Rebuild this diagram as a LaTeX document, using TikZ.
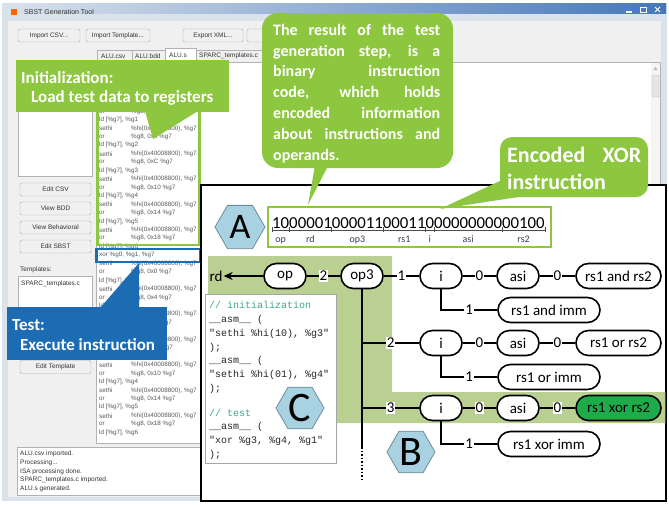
\documentclass[tikz,border=0pt]{standalone}
\usepackage{fontspec}
\setmainfont{Carlito}
\newfontfamily\uifont{Liberation Sans}
\newfontfamily\codefont{Liberation Mono}
\usetikzlibrary{shapes.geometric,arrows.meta}
\definecolor{callgreen}{RGB}{141,198,63}
\definecolor{callblue}{RGB}{28,108,180}
\definecolor{bggreen}{RGB}{186,207,146}
\definecolor{hexblue}{RGB}{168,210,226}
\definecolor{hexline}{RGB}{110,140,155}
\definecolor{darkgreen}{RGB}{30,172,75}
\definecolor{winbg}{RGB}{240,240,240}
\definecolor{winframe}{RGB}{218,226,236}
\definecolor{titleblue}{RGB}{70,120,185}
\definecolor{codecomment}{RGB}{60,170,130}
\newcommand\lstrow[3]{\node[lst] at (99,{120+8.45*#1}) {#2}; \node[lst] at (131,{120+8.45*#1}) {#3};}
\begin{document}
\begin{tikzpicture}[x=1pt,y=-1pt,
  uibtn/.style={draw=gray!65, fill=gray!12, rounded corners=1.5pt, minimum height=13pt, inner sep=0pt, font=\uifont\fontsize{6.5}{7}\selectfont, text=black!80},
  uitxt/.style={font=\uifont\fontsize{6.5}{7}\selectfont, inner sep=0pt, anchor=west, text=black!80},
  lst/.style={font=\uifont\fontsize{6.3}{7}\selectfont, inner sep=0pt, anchor=west, text=black!65},
  calltxt/.style={font=\bfseries\fontsize{17}{20}\selectfont, text=white, inner sep=0pt, anchor=base west},
  pill/.style={draw, line width=1.6pt, rounded corners=12.5pt, fill=white, minimum height=25pt, inner sep=0pt, font=\fontsize{15}{15}\selectfont, text=black},
  pills/.style={pill, minimum width=42pt},
  pillm/.style={pill, minimum width=85pt},
  pilll/.style={pill, minimum width=102pt},
  lbl/.style={fill=white, inner sep=1pt, font=\fontsize{15}{15}\selectfont},
  conn/.style={line width=1.5pt},
  hexa/.style={regular polygon, regular polygon sides=6, draw=hexline, fill=hexblue, line width=0.8pt, inner sep=0pt},
  codeln/.style={font=\codefont\fontsize{10}{10}\selectfont, inner sep=0pt, anchor=west, text=black!85},
  fieldlbl/.style={font=\fontsize{10}{10}\selectfont, inner sep=0pt, anchor=base, text=black!75}
]
\useasboundingbox (0,0) rectangle (669,504);
\fill[white] (0,0) rectangle (669,504);
% ---------------- window ----------------
\fill[winframe] (2,3) rectangle (667,501);
\shade[left color=winframe, right color=titleblue] (3,3) rectangle (666,13);
\fill[orange!80!red] (11,9) rectangle (17,15);
\node[uitxt, font=\uifont\fontsize{7}{7}\selectfont] (title) at (24,12) {SBST Generation Tool};
\draw[white, line width=1.3pt] (626,12) -- (632,12);
\draw[white, line width=1pt] (640,7) rectangle (646,12);
\draw[white, line width=1pt] (655,7) -- (660,12) (655,12) -- (660,7);
\fill[winbg] (8,21) rectangle (661,497);
% buttons
\node[uibtn, minimum width=62pt] (bcsv) at (49,35.5) {Import CSV...};
\node[uibtn, minimum width=64pt] (btpl) at (118,35.5) {Import Template...};
\node[uibtn, minimum width=60pt] (bxml) at (213,35.5) {Export XML...};
\node[uibtn, minimum width=54pt] (bfour) at (274,35.5) {};
% tabs
\draw[gray!60, fill=winbg] (97,62) -- (97,50) -- (132,50) -- (132,62);
\node[uitxt] (t1) at (101,56) {ALU.csv};
\draw[gray!60, fill=winbg] (132,62) -- (132,50) -- (165,50) -- (165,62);
\node[uitxt] (t2) at (135,56) {ALU.bdd};
\draw[gray!60, fill=white] (165,62) -- (165,48) -- (196,48) -- (196,62);
\node[uitxt] (t3) at (169,55) {ALU.s};
\draw[gray!60, fill=winbg] (196,62) -- (196,50) -- (262,50) -- (262,62);
\node[uitxt] (t4) at (199,56) {SPARC\_templates.c};
% content area
\draw[gray!60, fill=white] (96,62) rectangle (660,443);
\fill[gray!8] (651,63) rectangle (660,443);
\fill[gray!55] (653.5,70) -- (657.5,70) -- (655.5,67) -- cycle;
\draw[gray!50, fill=gray!20, rounded corners=1pt] (652,75) rectangle (659,97);
% left panel
\draw[gray!60, fill=white] (18,62) rectangle (92,176);
\node[uibtn, minimum width=71pt] (bcsv2) at (55.5,189.5) {Edit CSV};
\node[uibtn, minimum width=71pt] (bbdd) at (55.5,208.5) {View BDD};
\node[uibtn, minimum width=71pt] (bbeh) at (55.5,227.5) {View Behavioral};
\node[uibtn, minimum width=71pt] (bsbst) at (55.5,246.5) {Edit SBST};
\node[uitxt] (tpl) at (20,270) {Templates:};
\draw[gray!60, fill=white] (18,276) rectangle (92,355);
\node[uitxt] (tplc) at (21,284) {SPARC\_templates.c};
\node[uibtn, minimum width=71pt] (btmp) at (55.5,367) {Edit Template};
% status
\draw[gray!60, fill=white] (17,447) rectangle (660,495);
\node[uitxt] (s1) at (20,454) {ALU.csv imported.};
\node[uitxt] (s2) at (20,462.7) {Processing...};
\node[uitxt] (s3) at (20,471.4) {ISA processing done.};
\node[uitxt] (s4) at (20,480.1) {SPARC\_templates.c imported.};
\node[uitxt] (s5) at (20,488.8) {ALU.s generated.};
% listing
\lstrow{-1}{or}{\%g8, 0x4 \%g7}
\lstrow{0}{ld [\%g7], \%g1}{}
\lstrow{1}{sethi}{\%hi(0x40008800), \%g7}
\lstrow{2}{or}{\%g8, 0x8 \%g7}
\lstrow{3}{ld [\%g7], \%g2}{}
\lstrow{4}{sethi}{\%hi(0x40008800), \%g7}
\lstrow{5}{or}{\%g8, 0xC \%g7}
\lstrow{6}{ld [\%g7], \%g3}{}
\lstrow{7}{sethi}{\%hi(0x40008800), \%g7}
\lstrow{8}{or}{\%g8, 0x10 \%g7}
\lstrow{9}{ld [\%g7], \%g4}{}
\lstrow{10}{sethi}{\%hi(0x40008800), \%g7}
\lstrow{11}{or}{\%g8, 0x14 \%g7}
\lstrow{12}{ld [\%g7], \%g5}{}
\lstrow{13}{sethi}{\%hi(0x40008800), \%g7}
\lstrow{14}{or}{\%g8, 0x18 \%g7}
\lstrow{15}{ld [\%g7], \%g6}{}
\lstrow{16}{xor \%g0, \%g1, \%g7}{}
\lstrow{17}{sethi}{\%hi(0x40008800), \%g7}
\lstrow{18}{or}{\%g8, 0x0 \%g7}
\lstrow{19}{ld [\%g7], \%g0}{}
\lstrow{20}{sethi}{\%hi(0x40008800), \%g7}
\lstrow{21}{or}{\%g8, 0x4 \%g7}
\lstrow{22}{ld [\%g7], \%g1}{}
\lstrow{23}{sethi}{\%hi(0x40008800), \%g7}
\lstrow{24}{or}{\%g8, 0x8 \%g7}
\lstrow{25}{ld [\%g7], \%g2}{}
\lstrow{26}{sethi}{\%hi(0x40008800), \%g7}
\lstrow{27}{or}{\%g8, 0xC \%g7}
\lstrow{28}{ld [\%g7], \%g3}{}
\lstrow{29}{sethi}{\%hi(0x40008800), \%g7}
\lstrow{30}{or}{\%g8, 0x10 \%g7}
\lstrow{31}{ld [\%g7], \%g4}{}
\lstrow{32}{sethi}{\%hi(0x40008800), \%g7}
\lstrow{33}{or}{\%g8, 0x14 \%g7}
\lstrow{34}{ld [\%g7], \%g5}{}
\lstrow{35}{sethi}{\%hi(0x40008800), \%g7}
\lstrow{36}{or}{\%g8, 0x18 \%g7}
\lstrow{37}{ld [\%g7], \%g6}{}
% highlight frames
\draw[callgreen, line width=2.5pt] (97.5,100) rectangle (199.5,245);
\draw[callblue, line width=2.5pt] (96.5,249) rectangle (200,262);
% Initialization callout
\fill[callgreen] (16,60) rectangle (229,112);
\fill[callgreen] (145,111) -- (198,111) -- (153,139) -- cycle;
\node[calltxt] (init1) at (21,83) {Initialization:};
\node[calltxt] (init2) at (31,102) {Load test data to registers};
% Test callout
\fill[callblue] (7,307) rectangle (167,360);
\fill[callblue] (100,308) -- (139,308) -- (139,263) -- cycle;
\node[calltxt] (test1) at (12,330) {Test:};
\node[calltxt] (test2) at (20,350) {Execute instruction};
% ---------------- diagram panel ----------------
\draw[line width=1.2pt, fill=white] (201,185) rectangle (666,501);
\fill[bggreen] (208,256) -- (392,256) -- (392,392) -- (665.4,392) -- (665.4,423) -- (208,423) -- cycle;
% binary instruction
\draw[callgreen, line width=2.5pt] (268,207) rectangle (551,247);
\node[inner sep=0pt, anchor=base west, font=\fontsize{16.8}{17}\selectfont] (bin) at (272,228) {10000010000110001100000000000100};
\draw[black!70, line width=0.7pt] (272,230) -- (545,230);
\foreach \b in {0,2,7,13,18,19,27,32}
  \draw[black!70, line width=0.7pt] ({272+8.53*\b},227) -- ({272+8.53*\b},232);
\node[fieldlbl] (fop) at ({272+8.53*1},242) {op};
\node[fieldlbl] (frd) at ({272+8.53*4.5},242) {rd};
\node[fieldlbl] (fop3) at ({272+8.53*10},242) {op3};
\node[fieldlbl] (frs1) at ({272+8.53*15.5},242) {rs1};
\node[fieldlbl] (fi) at ({272+8.53*18.5},242) {i};
\node[fieldlbl] (fasi) at ({272+8.53*23},242) {asi};
\node[fieldlbl] (frs2) at ({272+8.53*29.5},242) {rs2};
% tree
\node[inner sep=1pt, font=\fontsize{15}{15}\selectfont] (rd) at (216,276) {rd};
\node[pills] (op) at (285,276) {op};
\node[pills] (op3) at (362,276) {op3};
\node[pills] (i1) at (441,276) {i};
\node[pills] (asi1) at (518,276) {asi};
\node[pillm] (r1) at (618.5,276) {rs1 and rs2};
\node[pilll] (sub1) at (549,310) {rs1 and imm};
\node[pills] (i2) at (441,343) {i};
\node[pills] (asi2) at (518,343) {asi};
\node[pillm] (r2) at (618.5,343) {rs1 or rs2};
\node[pilll] (sub2) at (549,377) {rs1 or imm};
\node[pills] (i3) at (441,408) {i};
\node[pills] (asi3) at (518,408) {asi};
\node[pillm, fill=darkgreen] (r3) at (618.5,408) {rs1 xor rs2};
\node[pilll] (sub3) at (549,444) {rs1 xor imm};
\coordinate (tb2) at (362,343);
\coordinate (tb3) at (362,408);
\coordinate (tend) at (362,447);
\coordinate (tdot) at (362,480);
\draw[conn, -{Stealth[length=9pt,width=8pt]}] (op) -- (rd);
\draw[conn] (op) -- node[lbl]{2} (op3);
\draw[conn] (op3) -- node[lbl]{1} (i1);
\draw[conn] (i1) -- node[lbl]{0} (asi1);
\draw[conn] (asi1) -- node[lbl]{0} (r1);
\draw[conn] (i1.south) |- node[lbl, pos=0.75]{1} (sub1);
\draw[conn] (op3.south) -- (tend);
\draw[conn, dash pattern=on 1.5pt off 2pt] (tend) -- (tdot);
\draw[conn] (tb2) -- node[lbl]{2} (i2);
\draw[conn] (i2) -- node[lbl]{0} (asi2);
\draw[conn] (asi2) -- node[lbl]{0} (r2);
\draw[conn] (i2.south) |- node[lbl, pos=0.75]{1} (sub2);
\draw[conn] (tb3) -- node[lbl]{3} (i3);
\draw[conn] (i3) -- node[lbl]{0} (asi3);
\draw[conn] (asi3) -- node[lbl]{0} (r3);
\draw[conn] (i3.south) |- node[lbl, pos=0.75]{1} (sub3);
% code box
\node[draw=gray!70, line width=1.2pt, fill=white, minimum width=131pt, minimum height=169pt, anchor=north west, inner sep=0pt] (code) at (205,294) {};
\node[codeln, text=codecomment] (c1) at (209,305) {// initialization};
\node[codeln] (c2) at (209,319.5) {\_\_asm\_\_ (};
\node[codeln] (c3) at (209,333.5) {"sethi \%hi(10), \%g3"};
\node[codeln] (c4) at (209,347.5) {);};
\node[codeln] (c5) at (209,361) {\_\_asm\_\_ (};
\node[codeln] (c6) at (209,375) {"sethi \%hi(01), \%g4"};
\node[codeln] (c7) at (209,389) {);};
\node[codeln, text=codecomment] (c8) at (209,413) {// test};
\node[codeln] (c9) at (209,427) {\_\_asm\_\_ (};
\node[codeln] (c10) at (209,441) {"xor \%g3, \%g4, \%g1"};
\node[codeln] (c11) at (209,455) {);};
% hexagons
\node[hexa, minimum size=50pt, font=\fontsize{36}{36}\selectfont] (hA) at (240,227) {A};
\node[hexa, minimum size=48pt, font=\fontsize{42}{42}\selectfont] (hB) at (411,452) {B};
\node[hexa, minimum size=48pt, font=\fontsize{42}{42}\selectfont] (hC) at (300,408) {C};
% ---------------- top callouts ----------------
\fill[callgreen, rounded corners=16pt] (262,13) rectangle (453,168);
\fill[callgreen] (316,160) -- (331,160) -- (308,205) -- cycle;
\node[calltxt, font=\bfseries\fontsize{16}{20}\selectfont] (r1l) at (273,35.3) {\makebox[167pt][s]{The result of the test}};
\node[calltxt, font=\bfseries\fontsize{16}{20}\selectfont] (r2l) at (273,56.1) {\makebox[167pt][s]{generation step, is a}};
\node[calltxt, font=\bfseries\fontsize{16}{20}\selectfont] (r3l) at (273,76.9) {\makebox[167pt][s]{binary instruction}};
\node[calltxt, font=\bfseries\fontsize{16}{20}\selectfont] (r4l) at (273,97.7) {\makebox[167pt][s]{code, which holds}};
\node[calltxt, font=\bfseries\fontsize{16}{20}\selectfont] (r5l) at (273,118.5) {\makebox[167pt][s]{encoded information}};
\node[calltxt, font=\bfseries\fontsize{16}{20}\selectfont] (r6l) at (273,139.3) {\makebox[167pt][s]{about instructions and}};
\node[calltxt, font=\bfseries\fontsize{16}{20}\selectfont] (r7l) at (273,160.1) {operands.};
\fill[callgreen, rounded corners=12pt] (500,137) rectangle (648,197);
\fill[callgreen] (502,180) -- (525,196) -- (440,209) -- cycle;
\node[calltxt, font=\bfseries\fontsize{22}{24}\selectfont] (e1) at (507,162) {\makebox[134pt][s]{Encoded XOR}};
\node[calltxt, font=\bfseries\fontsize{22}{24}\selectfont] (e2) at (507,189) {instruction};
\end{tikzpicture}
\end{document}
